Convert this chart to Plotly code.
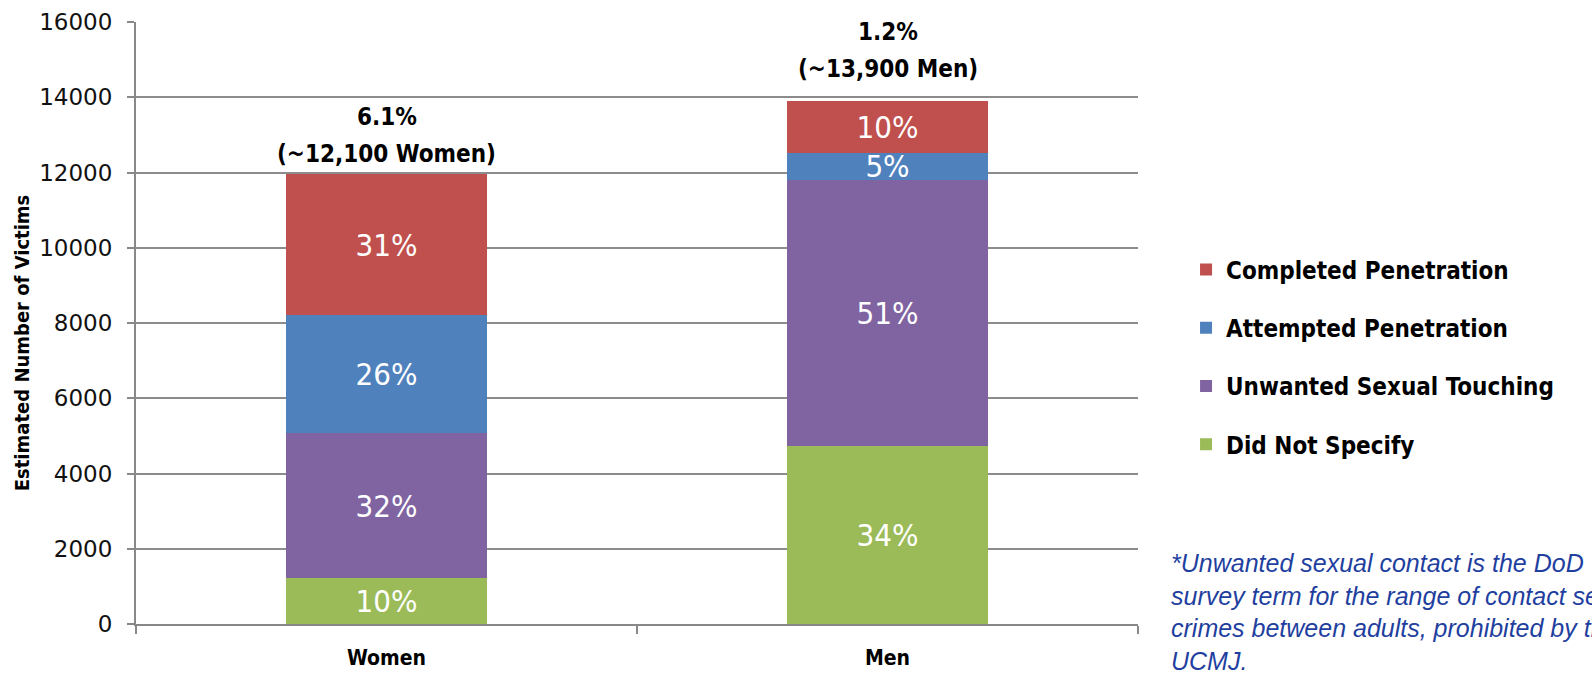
import plotly.graph_objects as go

categories = ["Women", "Men"]
series_names = ["Did Not Specify", "Unwanted Sexual Touching", "Attempted Penetration", "Completed Penetration"]
did_not_specify = [1220, 4730]
unwanted_touching = [3850, 7070]
attempted = [3140, 720]
completed = [3750, 1380]
pct_did_not_specify = ["10%", "34%"]
pct_unwanted_touching = ["32%", "51%"]
pct_attempted = ["26%", "5%"]
pct_completed = ["31%", "10%"]
share_labels = ["6.1%", "1.2%"]
count_labels = ["(~12,100 Women)", "(~13,900 Men)"]
y_ticks = [0, 2000, 4000, 6000, 8000, 10000, 12000, 14000, 16000]
y_title = "Estimated Number of Victims"
footnote = ("*Unwanted sexual contact is the DoD<br>survey term for the range of contact sexual<br>"
            "crimes between adults, prohibited by the<br>UCMJ.")

colors = ["#9BBB59", "#8064A2", "#4F81BD", "#C0504D"]
legend_ranks = [4, 3, 2, 1]
label_lift_px = [4, 16]  # extra gap between bar top and its total label
values = [did_not_specify, unwanted_touching, attempted, completed]
pcts = [pct_did_not_specify, pct_unwanted_touching, pct_attempted, pct_completed]

NARROW = "Liberation Sans Narrow, Arial Narrow, DejaVu Sans Condensed, sans-serif"

fig = go.Figure()
for name, vals, pc, col, rk in zip(series_names, values, pcts, colors, legend_ranks):
    fig.add_trace(go.Bar(
        x=categories, y=vals, name=name, legendgroup=name, legendrank=rk,
        marker=dict(color=col, line=dict(width=0)),
        text=pc, textposition="inside", insidetextanchor="middle",
        textangle=0, constraintext="none",
        textfont=dict(family=NARROW, size=31, color="white"),
        hoverinfo="skip",
    ))

totals = [sum(v[i] for v in values) for i in range(len(categories))]
for cat, tot, share, cnt, lift in zip(categories, totals, share_labels, count_labels, label_lift_px):
    fig.add_annotation(x=cat, y=tot, text=cnt, showarrow=False,
                       yanchor="bottom", yshift=lift,
                       font=dict(family=NARROW, size=24, color="black", weight="bold"))
    fig.add_annotation(x=cat, y=tot, text=share, showarrow=False,
                       yanchor="bottom", yshift=lift + 37,
                       font=dict(family=NARROW, size=24, color="black", weight="bold"))

fig.add_annotation(xref="paper", yref="paper", x=1.031, y=0.128, xanchor="left", yanchor="top",
                   align="left", showarrow=False, text="<i>" + footnote + "</i>",
                   font=dict(family="Liberation Sans, Arial, sans-serif", size=25, color="#1F3F9F"))

fig.add_annotation(xref="paper", yref="paper", x=-0.1138, y=0.468, xanchor="center", yanchor="middle",
                   textangle=-90, showarrow=False, text=y_title,
                   font=dict(family=NARROW, size=20, color="black", weight="bold"))

fig.update_layout(
    barmode="stack", bargap=0.6,
    width=1592, height=679,
    margin=dict(l=136, r=454, t=22, b=55, autoexpand=False),
    plot_bgcolor="white", paper_bgcolor="white",
    uniformtext=dict(minsize=31, mode="show"),
    legend=dict(xref="container", yref="container", x=0.745, y=0.6356,
                xanchor="left", yanchor="top",
                traceorder="grouped", tracegroupgap=24,
                font=dict(family=NARROW, size=24, color="black", weight="bold"),
                itemwidth=30),
    showlegend=True,
)
fig.update_xaxes(
    automargin=False,
    showline=True, linecolor="#888888", linewidth=2,
    ticks="outside", tickson="boundaries", ticklen=8, tickcolor="#888888", tickwidth=1.5,
    tickfont=dict(family=NARROW, size=21, color="black", weight="bold"),
    ticklabelstandoff=14,
)
fig.update_yaxes(
    automargin=False,
    range=[0, 16000], tickvals=y_ticks, tickformat="d",
    showline=True, linecolor="#888888", linewidth=2,
    showgrid=True, gridcolor="#8C8C8C", gridwidth=1.5,
    ticks="outside", ticklen=7, tickcolor="#888888", tickwidth=1.5,
    tickfont=dict(family="DejaVu Sans, sans-serif", size=23, color="#111111"),
    ticklabelstandoff=10,
    zeroline=False,
)

fig.write_html(
    "out.html",
    config={"displayModeBar": False},
    post_script=(
        "document.body.style.margin='0';"
        "document.body.style.overflow='hidden';"
        "document.documentElement.style.overflow='hidden';"
        "var gd=document.getElementById('{plot_id}');"
        "gd.style.overflow='hidden';"
        "if(gd.parentElement){gd.parentElement.style.overflow='hidden';"
        "gd.parentElement.style.width='1592px';gd.parentElement.style.height='679px';}"
        "document.querySelectorAll('.main-svg').forEach(function(s){s.style.overflow='hidden';});"
    ),
)
